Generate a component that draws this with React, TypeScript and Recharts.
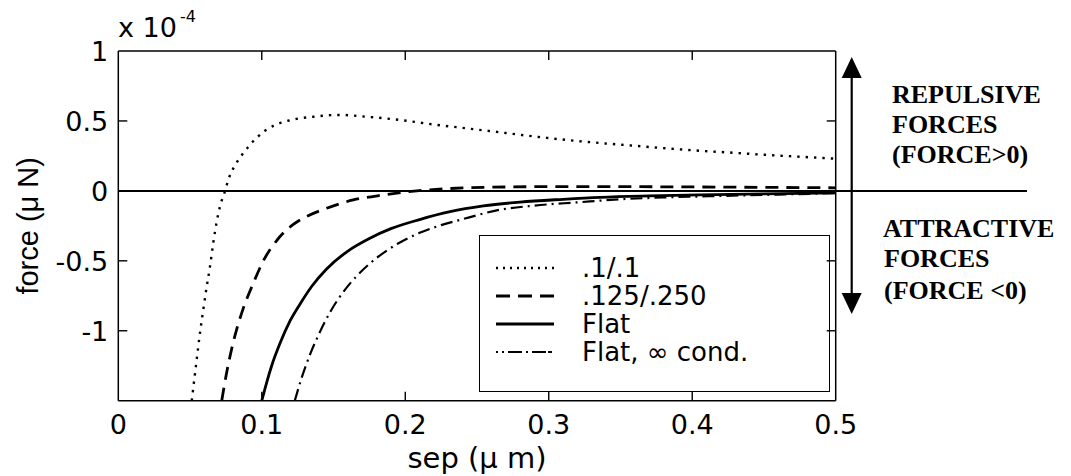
import { LineChart, Line, XAxis, YAxis, ReferenceLine, Legend } from "recharts";

// separation in µm, force in units of 1e-4 µN
const sepDot = [0.0512, 0.0546, 0.0569, 0.0592, 0.0616, 0.0639, 0.0662, 0.0686, 0.0709, 0.0744, 0.0767, 0.0801, 0.0836, 0.0871, 0.0918, 0.0965, 0.1022, 0.108, 0.1197, 0.1359, 0.1545, 0.1731, 0.1963, 0.2195, 0.2428, 0.2611, 0.289, 0.3125, 0.336, 0.359, 0.382, 0.405, 0.428, 0.452, 0.475, 0.5];
const forceDot = [-1.5, -1.209, -1.018, -0.851, -0.685, -0.542, -0.37, -0.22, -0.11, 0, 0.08, 0.16, 0.22, 0.27, 0.33, 0.38, 0.43, 0.465, 0.505, 0.53, 0.543, 0.53, 0.507, 0.475, 0.447, 0.425, 0.39, 0.364, 0.342, 0.323, 0.304, 0.287, 0.273, 0.257, 0.244, 0.23];

const sepDash = [0.0721, 0.0755, 0.079, 0.0825, 0.0871, 0.0941, 0.1011, 0.1104, 0.122, 0.129, 0.1452, 0.1638, 0.1847, 0.208, 0.2312, 0.2544, 0.3, 0.35, 0.4, 0.45, 0.5];
const forceDash = [-1.5, -1.3, -1.13, -0.99, -0.84, -0.66, -0.5, -0.355, -0.24, -0.195, -0.124, -0.065, -0.029, 0, 0.017, 0.025, 0.03, 0.03, 0.028, 0.025, 0.022];

const sepFlat = [0.1, 0.1034, 0.1069, 0.1127, 0.1197, 0.1266, 0.135, 0.145, 0.16, 0.175, 0.19, 0.21, 0.2312, 0.2544, 0.28, 0.31, 0.336, 0.37, 0.405, 0.45, 0.5];
const forceFlat = [-1.5, -1.37, -1.25, -1.09, -0.93, -0.81, -0.68, -0.56, -0.43, -0.34, -0.27, -0.205, -0.149, -0.108, -0.08, -0.06, -0.046, -0.036, -0.029, -0.021, -0.014];

const sepInf = [0.123, 0.128, 0.134, 0.14, 0.148, 0.157, 0.167, 0.18, 0.195, 0.21, 0.225, 0.238, 0.266, 0.29, 0.32, 0.35, 0.38, 0.405, 0.44, 0.47, 0.5];
const forceInf = [-1.5, -1.33, -1.16, -1.02, -0.86, -0.72, -0.6, -0.48, -0.376, -0.3, -0.245, -0.208, -0.135, -0.105, -0.082, -0.06, -0.047, -0.04, -0.031, -0.024, -0.016];

const xTicks = [0, 0.1, 0.2, 0.3, 0.4, 0.5];
const yTicks = [-1, -0.5, 0, 0.5, 1];

const X_MIN = 0, X_MAX = 0.5, Y_MIN = -1.5, Y_MAX = 1;

// plot box in page pixels; chart margins are derived from it
const W = 1071, H = 476;
const BOX = { left: 118.3, top: 51, right: 835.7, bottom: 400.7 };
const Y_AXIS_W = 100;
const X_AXIS_H = 70;
const TICK_LEN = 9;

const SERIES = [
  { name: ".1/.1", sep: sepDot, force: forceDot, dash: "2.4 6", legendDash: "2 5", width: 2.4 },
  { name: ".125/.250", sep: sepDash, force: forceDash, dash: "13 8", legendDash: "14 8", width: 2.8 },
  { name: "Flat", sep: sepFlat, force: forceFlat, dash: undefined, legendDash: undefined, width: 2.8 },
  { name: "Flat, \u221e cond.", sep: sepInf, force: forceInf, dash: "12 5 2 5", legendDash: "2 4 2 4 14 4 2 4 14", width: 2.2 },
];

const SANS = "'DejaVu Sans', sans-serif";
const SERIF = "'Liberation Serif', 'Times New Roman', serif";

const fmt = (v: number) => String(v);

function BottomTick({ x, y, payload }: any) {
  return (
    <text x={x} y={y + 33.5} textAnchor="middle" fontSize={27} fontFamily={SANS} fill="#000">
      {fmt(payload.value)}
    </text>
  );
}

function LeftTick({ x, y, payload }: any) {
  return (
    <text x={x - 10} y={y + 10} textAnchor="end" fontSize={27} fontFamily={SANS} fill="#000">
      {fmt(payload.value)}
    </text>
  );
}

function LegendBox({ payload }: any) {
  const items = payload && payload.length ? payload : SERIES.map((s) => ({ value: s.name }));
  return (
    <div
      style={{
        boxSizing: "border-box", width: 351, height: 157, border: "1.5px solid #000",
        background: "#fff", paddingTop: 18,
      }}
    >
      {items.map((p: any) => {
        const s = SERIES.find((d) => d.name === p.value) || SERIES[0];
        return (
          <div key={s.name} style={{ position: "relative", height: 28 }}>
            <svg width={60} height={28} style={{ position: "absolute", left: 15, top: 0 }}>
              <line x1={1} y1={14} x2={59} y2={14} stroke="#000" strokeWidth={s.width}
                strokeDasharray={s.legendDash} />
            </svg>
            <div
              style={{
                position: "absolute", left: 102, top: 0, height: 28, fontFamily: SANS, fontSize: 26,
                lineHeight: "28px", color: "#000", whiteSpace: "nowrap",
              }}
            >
              {s.name}
            </div>
          </div>
        );
      })}
    </div>
  );
}

// inward (matlab style) tick marks on all four sides of the box
const tx = (v: number) => BOX.left + ((v - X_MIN) / (X_MAX - X_MIN)) * (BOX.right - BOX.left);
const ty = (v: number) => BOX.bottom - ((v - Y_MIN) / (Y_MAX - Y_MIN)) * (BOX.bottom - BOX.top);

function InwardTicks() {
  const xs = xTicks.filter((t) => t > X_MIN && t < X_MAX);
  const ys = yTicks.filter((t) => t > Y_MIN && t < Y_MAX);
  return (
    <g stroke="#000" strokeWidth={1.4}>
      {xs.map((t) => (
        <g key={`x${t}`}>
          <line x1={tx(t)} y1={BOX.bottom} x2={tx(t)} y2={BOX.bottom - TICK_LEN} />
          <line x1={tx(t)} y1={BOX.top} x2={tx(t)} y2={BOX.top + TICK_LEN} />
        </g>
      ))}
      {ys.map((t) => (
        <g key={`y${t}`}>
          <line x1={BOX.left} y1={ty(t)} x2={BOX.left + TICK_LEN} y2={ty(t)} />
          <line x1={BOX.right} y1={ty(t)} x2={BOX.right - TICK_LEN} y2={ty(t)} />
        </g>
      ))}
    </g>
  );
}

export default function App() {
  const margin = {
    top: BOX.top - 1,
    right: W - BOX.right - 1,
    bottom: H - BOX.bottom - X_AXIS_H,
    left: BOX.left - Y_AXIS_W,
  };
  return (
    <div style={{ position: "absolute", left: 0, top: 0, width: W, height: H, background: "#fff" }}>
      <LineChart width={W} height={H} margin={margin}>
        <XAxis
          dataKey="sep" type="number" domain={[X_MIN, X_MAX]} ticks={xTicks} height={X_AXIS_H}
          stroke="#000" strokeWidth={1.5} tickSize={0} tickMargin={0} tickLine={false}
          tick={<BottomTick />} interval={0}
          label={{ value: "sep (\u03bc m)", position: "center", dy: 22, fontSize: 29, fontFamily: SANS, fill: "#000" }}
        />
        <XAxis
          xAxisId="top" orientation="top" dataKey="sep" type="number" domain={[X_MIN, X_MAX]}
          height={1} stroke="#000" strokeWidth={1.5} tickLine={false} tick={false}
        />
        <YAxis
          type="number" domain={[Y_MIN, Y_MAX]} ticks={yTicks} width={Y_AXIS_W} allowDataOverflow
          stroke="#000" strokeWidth={1.5} tickSize={0} tickMargin={0} tickLine={false}
          tick={<LeftTick />} interval={0}
          label={{ value: "force (\u03bc N)", angle: -90, position: "center", dx: -41, fontSize: 29, fontFamily: "'Liberation Sans', Arial, sans-serif", fill: "#000" }}
        />
        <YAxis
          yAxisId="right" orientation="right" type="number" domain={[Y_MIN, Y_MAX]} width={1}
          stroke="#000" strokeWidth={1.5} tickLine={false} tick={false}
        />
        <ReferenceLine y={0} stroke="#000" strokeWidth={2} />
        {SERIES.map((s) => (
          <Line
            key={s.name}
            name={s.name}
            data={s.sep.map((x, i) => ({ sep: x, f: s.force[i] }))}
            dataKey="f"
            type="monotone"
            stroke="#000"
            strokeWidth={s.width}
            strokeDasharray={s.dash}
            dot={false}
            activeDot={false}
            isAnimationActive={false}
          />
        ))}
        <Legend
          layout="vertical" verticalAlign="middle" align="center"
          content={<LegendBox />}
          wrapperStyle={{ position: "absolute", left: 479, top: 235, width: 351, height: 157 }}
        />
      </LineChart>
      <svg width={W} height={H} style={{ position: "absolute", left: 0, top: 0, pointerEvents: "none" }}>
        <InwardTicks />
        <text x={118} y={37} fontSize={27} fontFamily={SANS} fill="#000">
          x 10<tspan dx={3} dy={-15} fontSize={16}>-4</tspan>
        </text>
        <line x1={BOX.right} y1={ty(0)} x2={1027} y2={ty(0)} stroke="#000" strokeWidth={2} />
        <line x1={851.7} y1={74} x2={851.7} y2={297} stroke="#000" strokeWidth={2.2} />
        <polygon points="841.7,78 861.7,78 851.7,57" fill="#000" />
        <polygon points="841.7,293 861.7,293 851.7,314" fill="#000" />
        <g fontFamily={SERIF} fontWeight="bold" fontSize={26} fill="#000">
          <text x={892} y={103}>REPULSIVE</text>
          <text x={892} y={133}>FORCES</text>
          <text x={892} y={163}>(FORCE&gt;0)</text>
          <text x={883} y={237}>ATTRACTIVE</text>
          <text x={884} y={267}>FORCES</text>
          <text x={884} y={299}>(FORCE &lt;0)</text>
        </g>
      </svg>
    </div>
  );
}
